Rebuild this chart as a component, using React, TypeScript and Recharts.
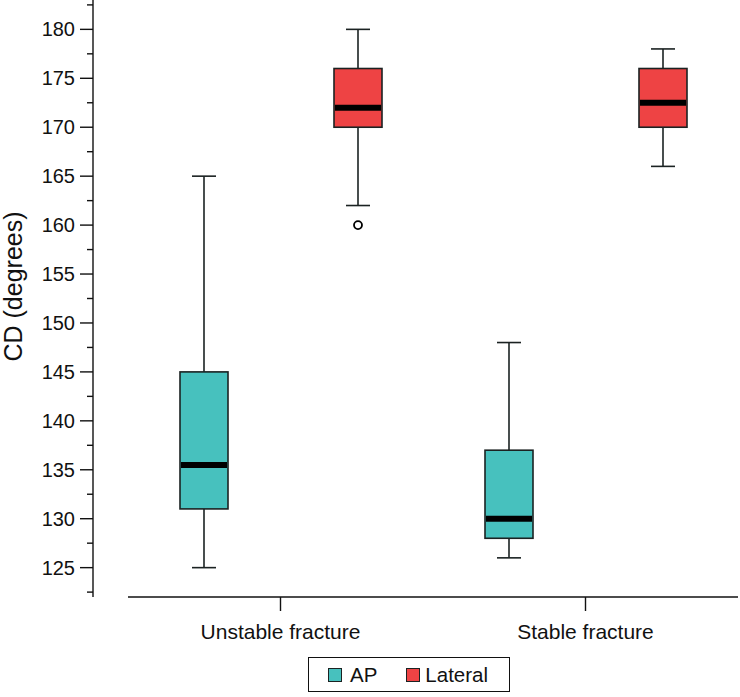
import React from 'react';
import { ComposedChart, Bar, XAxis, YAxis, Legend } from 'recharts';

// Categories and box-plot statistics (degrees)
const categories = ['Unstable fracture', 'Stable fracture'];

const apMin = [125, 126];
const apQ1 = [131, 128];
const apMedian = [135.5, 130];
const apQ3 = [145, 137];
const apMax = [165, 148];
const apOutliers: number[][] = [[], []];

const latMin = [162, 166];
const latQ1 = [170, 170];
const latMedian = [172, 172.5];
const latQ3 = [176, 176];
const latMax = [180, 178];
const latOutliers: number[][] = [[160], []];

const majorTicks = [125, 130, 135, 140, 145, 150, 155, 160, 165, 170, 175, 180];
const minorTicks = [122.5, 127.5, 132.5, 137.5, 142.5, 147.5, 152.5, 157.5, 162.5, 167.5, 172.5, 177.5, 182.5];
const allTicks = [...majorTicks, ...minorTicks].sort((a, b) => a - b);

const AP_COLOR = '#47c1be';
const LAT_COLOR = '#ee4344';
const FONT = '"Liberation Sans", Arial, Helvetica, sans-serif';

const data = categories.map((name, i) => ({
  name,
  ap: [apMin[i], apMax[i]],
  apStats: { min: apMin[i], q1: apQ1[i], median: apMedian[i], q3: apQ3[i], max: apMax[i], outliers: apOutliers[i] },
  lat: [latMin[i], latMax[i]],
  latStats: { min: latMin[i], q1: latQ1[i], median: latMedian[i], q3: latQ3[i], max: latMax[i], outliers: latOutliers[i] },
}));

// draws one box from the [min, max] range bar that recharts positions for us
const makeBoxShape = (statsKey: string, fill: string) => (props: any) => {
  const { x, y, width, height, payload } = props;
  const s = payload[statsKey];
  const pxPerUnit = height / (s.max - s.min);
  const toY = (v: number) => y + (s.max - v) * pxPerUnit;
  const cx = x + width / 2;
  const cap = 12;
  const stroke = '#1b2222';
  return (
    <g>
      <line x1={cx} x2={cx} y1={toY(s.max)} y2={toY(s.q3)} stroke={stroke} strokeWidth={1.6} />
      <line x1={cx} x2={cx} y1={toY(s.q1)} y2={toY(s.min)} stroke={stroke} strokeWidth={1.6} />
      <line x1={cx - cap} x2={cx + cap} y1={toY(s.max)} y2={toY(s.max)} stroke={stroke} strokeWidth={1.6} />
      <line x1={cx - cap} x2={cx + cap} y1={toY(s.min)} y2={toY(s.min)} stroke={stroke} strokeWidth={1.6} />
      <rect x={x} y={toY(s.q3)} width={width} height={toY(s.q1) - toY(s.q3)} fill={fill} stroke={stroke} strokeWidth={1.6} />
      <line x1={x + 1} x2={x + width - 1} y1={toY(s.median)} y2={toY(s.median)} stroke="#000" strokeWidth={6} />
      {s.outliers.map((o: number, k: number) => (
        <circle key={k} cx={cx} cy={toY(o)} r={4} fill="#fff" stroke="#000" strokeWidth={1.8} />
      ))}
    </g>
  );
};

const YTick = (props: any) => {
  const { x, y, payload } = props;
  const v = payload.value;
  const major = majorTicks.includes(v);
  return (
    <g>
      <line x1={x - (major ? 13 : 6)} x2={x} y1={y} y2={y} stroke="#111" strokeWidth={1.4} />
      {major && (
        <text x={x - 18} y={y} dy={7} textAnchor="end" fontSize={20} fill="#111" fontFamily={FONT}>
          {v}
        </text>
      )}
    </g>
  );
};

const YLabel = (props: any) => {
  const { viewBox } = props;
  const x = viewBox.x + 22;
  const y = viewBox.y + viewBox.height / 2 - 12;
  return (
    <text x={x} y={y} transform={`rotate(-90, ${x}, ${y})`} textAnchor="middle" fontSize={25} fill="#111" fontFamily={FONT}>
      CD (degrees)
    </text>
  );
};

const XTick = (props: any) => {
  const { x, payload } = props;
  return (
    <g>
      <line x1={x} x2={x} y1={597} y2={611} stroke="#111" strokeWidth={1.4} />
      <text x={x} y={639} textAnchor="middle" fontSize={21} fill="#111" fontFamily={FONT}>
        {payload.value}
      </text>
    </g>
  );
};

const LegendBox = () => (
  <div
    style={{
      border: '1.5px solid #111',
      height: 35,
      width: 202,
      boxSizing: 'border-box',
      display: 'flex',
      alignItems: 'center',
      fontFamily: FONT,
      fontSize: 20.5,
      color: '#111',
      paddingLeft: 19,
    }}
  >
    <span style={{ width: 14, height: 14, background: AP_COLOR, border: '1.4px solid #1b2222', boxSizing: 'border-box' }} />
    <span style={{ marginLeft: 8 }}>AP</span>
    <span style={{ width: 14, height: 14, background: LAT_COLOR, border: '1.4px solid #1b2222', boxSizing: 'border-box', marginLeft: 29 }} />
    <span style={{ marginLeft: 5 }}>Lateral</span>
  </div>
);

const App: React.FC = () => {
  return (
    <div style={{ position: 'absolute', left: 0, top: 0, width: 740, height: 697, background: '#fff' }}>
      <ComposedChart
        width={740}
        height={697}
        data={data}
        barSize={48}
        barGap={106}
        margin={{ top: 0, right: 2, bottom: 7, left: 0 }}
      >
        {/* empty axis that leaves the gap between the y axis and the x axis line */}
        <YAxis yAxisId={0} width={35} axisLine={false} tick={false} tickLine={false} domain={[0, 1]} />
        <YAxis
          yAxisId={1}
          width={93}
          domain={[122, 183]}
          ticks={allTicks}
          interval={0}
          allowDataOverflow
          axisLine={{ stroke: '#111', strokeWidth: 1.4 }}
          tickLine={false}
          tickSize={0}
          tickMargin={0}
          tick={<YTick />}
          label={<YLabel />}
        />
        <XAxis
          dataKey="name"
          height={58}
          axisLine={{ stroke: '#111', strokeWidth: 1.4 }}
          tickLine={false}
          tick={<XTick />}
          interval={0}
        />
        <Legend
          verticalAlign="bottom"
          height={35}
          content={<LegendBox />}
          wrapperStyle={{ left: 308, top: 657, bottom: 'auto', width: 202, height: 35 }}
        />
        <Bar yAxisId={1} dataKey="ap" name="AP" fill={AP_COLOR} shape={makeBoxShape('apStats', AP_COLOR)} isAnimationActive={false} />
        <Bar yAxisId={1} dataKey="lat" name="Lateral" fill={LAT_COLOR} shape={makeBoxShape('latStats', LAT_COLOR)} isAnimationActive={false} />
      </ComposedChart>
    </div>
  );
};

export default App;
